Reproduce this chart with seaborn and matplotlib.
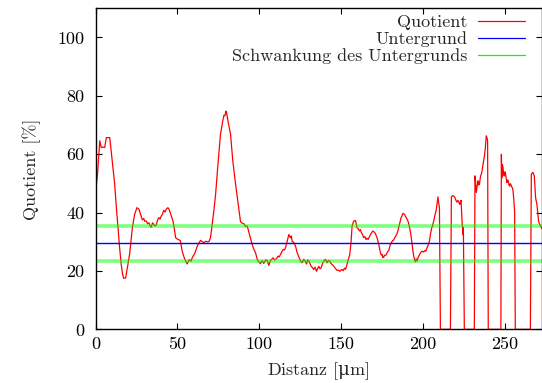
import pandas as pd
import seaborn as sns
import matplotlib.pyplot as plt
from matplotlib.lines import Line2D

# Quotient profile (distance in um, quotient in %)
distanz = [
    0, 1.2, 2.6, 3.5, 4.5, 5.6, 6.6, 8.7, 9.6, 10.6, 11.7, 12.7, 13.7, 14.7, 15.7,
    16.5, 17.2, 18.4, 19.8, 20.8, 21.6, 22.5, 23.9, 25.3, 26.5, 27.9, 28.6, 29.4,
    30.2, 31, 31.8, 32.6, 33.3, 34, 34.8, 35.5, 36.3, 37.1, 37.9, 38.7, 39.4, 40.1,
    40.9, 41.6, 42.4, 43.2, 44.2, 45, 45.6, 46.5, 47.3, 48.1, 48.9, 50.3, 51.7, 52.9,
    54, 55, 56, 56.8, 57.4, 58.2, 59, 60.7, 62.1, 63, 64.1, 65, 66.2, 67.2, 68.2,
    69.2, 70.2, 71.2, 72.3, 73.3, 74.9, 76.3, 77.7, 78.4, 79, 79.6, 80, 81, 82.4,
    83.8, 85.5, 87.1, 88.5, 89.5, 90.5, 91.5, 92.6, 94, 95.6, 96.6, 97.7, 98.7,
    99.7, 100.6, 101.7, 102.7, 103.8, 104.8, 105.8, 106.8,
    108.4, 109.2, 109.9, 110.6, 111.3, 112.1, 112.9, 113.7, 114.5, 115.3, 116, 117,
    118, 118.5, 119, 119.5, 120, 121, 122.1, 123.1, 124.7, 125.4, 126.1, 127.1,
    127.9, 128.8, 129.5, 130.2, 130.9, 131.6, 132.4, 133.2, 134, 134.9, 135.6, 136.3,
    137, 137.7, 138.5, 139.3, 140.4, 141.3, 142.1, 143, 143.7, 144.4, 145.2, 145.9,
    146.6, 147.4, 148.2, 149.1, 149.8, 150.5, 151.2, 152, 152.6, 153.2, 154, 154.6,
    155.2, 156, 156.6, 157.6, 158.7, 159.6, 160.3, 161.1, 161.7, 162.3, 163, 163.7,
    164.4, 165.1, 165.8, 166.4, 167.2, 167.9, 168.6, 169.3, 170, 170.5, 171.2, 171.8,
    172.4, 172.9, 173.4, 173.9, 174.4, 174.9, 175.4, 175.9, 176.4, 176.9, 177.4,
    177.9, 178.5, 179, 179.5, 180, 180.7, 181.4, 182, 182.6, 183.3, 184, 184.5, 185,
    185.5, 186, 186.5, 187, 187.5, 188.1, 188.6, 189.1, 189.9, 190.7, 191.4, 192.1,
    192.7, 193.2, 193.7, 194.2, 194.7, 195.2, 195.7, 196.2, 196.7, 197.3, 198.3,
    199.3, 200.2, 201, 201.6, 202.3, 203, 203.8, 204.4, 205, 205.7, 206.4, 207.1,
    207.8, 208.4, 209, 209.4, 209.9, 210.5, 216.6, 217.2, 217.9, 218.6, 219.3, 220,
    220.6, 221.2, 221.8, 222.3, 222.7, 223.1, 223.7, 224, 224.3, 224.5, 224.7, 225.1,
    231.2, 231.6, 232, 232.4, 232.9, 233.4, 233.8, 234.3, 234.6, 235, 235.5, 235.9,
    236.4, 236.9, 237.4, 237.9, 238.5, 239, 239.3, 239.7, 247.4, 247.7, 248, 248.3,
    248.7, 249.1, 249.5, 249.9, 250.3, 250.7, 251.1, 251.5, 251.9, 252.3, 252.7,
    253.1, 253.5, 253.9, 254.4, 254.8, 255.2, 255.8, 256.2, 265.4, 266, 266.5, 267,
    267.4, 267.8, 268.2, 268.6, 269, 269.4, 269.9, 270.4, 271, 272.5,
]
quotient = [
    47, 53, 64.6, 62.3, 62.5, 62.3, 65.7, 65.7, 61, 56, 49.8, 42, 34.8, 28, 22.3,
    19, 17.5, 17.6, 22.3, 25.7, 30, 34.8, 39.5, 41.7, 41.2, 38.8, 37.5, 38,
    37, 37.1, 36.2, 36.5, 35.5, 35, 36.5, 36, 35.4, 35.8, 37.5, 38.3, 37.8, 38.8,
    39.5, 40.8, 40.2, 41.2, 41.7, 41, 40, 38.5, 37.1, 34.5, 31.4, 30.8, 30.5, 26.8,
    24.8, 23.4, 22.4, 23.5, 23.9, 23.3, 24.5, 26.2, 28.5, 29.5, 30.5, 30.1, 29.7, 30.2, 30,
    30.1, 31.4, 36, 41, 46.3, 57.7, 66.9, 71.5, 73.4, 73.2, 74.8, 74.3, 70.9, 66.9,
    57.7, 49.7, 42.8, 36.9, 36.4, 36.2, 35.3, 35.4, 32.5, 29.1, 27.5, 26.2, 24,
    23.2, 22.5, 23.5, 22.6, 23.8, 23.6, 21.9, 23.6,
    24.5, 23.8, 24, 24.3, 25.1, 24.8, 25.7, 26.6, 27.4, 27.2, 28, 30.2,
    32.5, 31.8, 31.4, 32, 30.2, 29.8, 28.5, 26.2, 24, 23.2, 22.8, 24,
    23.5, 22.4, 23.8, 23.4, 22.6, 21.6, 21.2, 20.5, 21.3, 19.9, 20.8, 21.6,
    20.8, 21, 22.5, 23.4, 24, 22.8, 23.6, 23.4, 22.6, 22.2, 21.8, 21.3,
    20.8, 20.2, 20.3, 19.9, 20.3, 20.5, 20.1, 21, 20.6, 21.6, 23.4, 24.5,
    25.7, 30.2, 35.4, 37.1, 37.3, 34.8, 34.5, 33.7, 34.2, 33.1, 32.5, 31.4,
    31.8, 30.8, 31.2, 30.8, 31.8, 32.5, 33.2, 33.7, 33.4, 33.1, 32.3, 31.4,
    30.2, 29.1, 27.6, 26.2, 25.5, 25.7, 24.6, 24.7, 25.4, 25.4, 25.5,
    26.2, 26.8, 27, 28.2, 29.1, 29.8, 30.5, 30.6, 31.4, 32, 32.8, 33.6, 34.8,
    36, 37.1, 38.3, 38.8, 39.7, 39.6, 39.4, 38.8, 38, 37.1, 35.5, 33.7,
    31.5, 29.1, 27, 25.1, 24, 23.1, 24.2, 23.4, 24.3, 25.1, 26.2,
    26.8, 26.5, 27, 26.8, 27.9, 28.8, 30.2, 32.5, 34.3, 35.6, 37.1, 39,
    40.5, 42.8, 45.4, 43.5, 41.7, 0, 0, 45.4, 45.8, 45.7, 45.2, 44.2,
    43.6, 44.2, 43.5, 42.8, 43.6, 44.2, 37.1, 35, 32.5, 35, 24, 0,
    0, 52.6, 50, 46.9, 49, 50.9, 49.5, 49.7, 51, 52.6, 53.2, 54.3,
    56, 57.7, 59.6, 62, 66.3, 65.5, 64.6, 0, 0, 60, 52, 56.5,
    55.4, 53, 52.6, 54, 53.2, 51.5, 50.3, 51.2, 50.9, 49.6, 49.1,
    49.9, 49.7, 48.8, 48.6, 47.5, 45.1, 40.5, 0, 0, 53.2, 53.5, 53.8,
    53.1, 52.6, 49, 45.1, 44, 42.8, 40, 37.1, 36.1, 34.5,
]

untergrund = 29.5
schwankung = [35.5, 23.5]

labels = ["Quotient", "Untergrund", "Schwankung des Untergrunds"]

sns.set_theme(style="ticks")
plt.rcParams["font.family"] = ["cmr10", "DejaVu Serif"]
plt.rcParams["axes.unicode_minus"] = False
# the upright mu comes from a math font, the rest stays in cmr10
plt.rcParams["mathtext.fontset"] = "custom"
plt.rcParams["mathtext.rm"] = "DejaVu Serif"

fig = plt.figure(figsize=(5.42, 3.83), dpi=100)
ax = fig.add_axes([0.1762, 0.14, 0.8238, 0.8383])

df = pd.DataFrame({"distanz": distanz, "quotient": quotient})
sns.lineplot(
    data=df,
    x="distanz",
    y="quotient",
    estimator=None,
    sort=False,
    color="#ff0000",
    linewidth=0.9,
    ax=ax
)

ax.axhline(untergrund, color="#0000ff", linewidth=1.0)
for level in schwankung:
    ax.axhline(level, color="#00ff00", linewidth=2.6, alpha=0.5)

ax.set_xlim(0, 272.5)
ax.set_ylim(0, 110)
ax.set_xticks([0, 50, 100, 150, 200, 250])
ax.set_yticks([0, 20, 40, 60, 80, 100])

ax.tick_params(direction="in", length=4, width=0.8, top=True, right=True,
               labelsize=13, colors="black")
ax.tick_params(axis="y", pad=8)
ax.tick_params(axis="x", pad=5)
for spine in ax.spines.values():
    spine.set_linewidth(1.0)
    spine.set_color("black")

ax.set_xlabel(r"Distanz [$\mathrm{\mu}$m]", fontsize=13, labelpad=6)
ax.set_ylabel("Quotient [%]", fontsize=13, labelpad=12)

handles = [
    Line2D([], [], color="#ff0000", linewidth=0.9),
    Line2D([], [], color="#0000ff", linewidth=0.9),
    Line2D([], [], color="#00ff00", linewidth=0.9),
]
ax.legend(
    handles, labels,
    loc="upper right",
    bbox_to_anchor=(0.968, 0.99),
    frameon=False,
    markerfirst=False,
    fontsize=13,
    handlelength=2.6,
    handletextpad=0.6,
    labelspacing=0.07,
    borderpad=0.15,
    borderaxespad=0.0,
)

plt.savefig("out.png", dpi=100)
plt.close()
